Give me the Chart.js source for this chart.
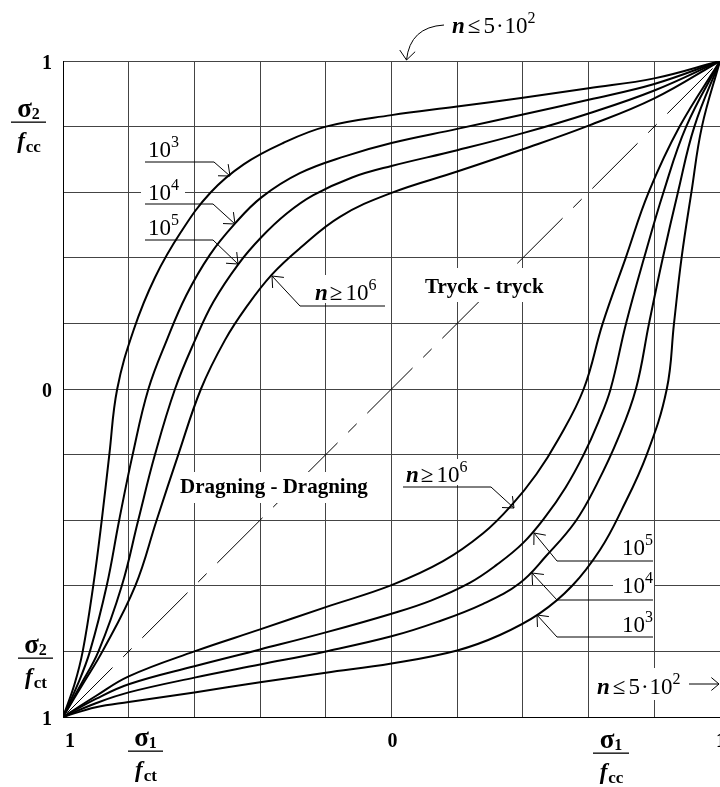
<!DOCTYPE html>
<html lang="sv">
<head>
<meta charset="utf-8">
<title>Utmattning - biaxiell</title>
<script src="https://cdn.jsdelivr.net/npm/chart.js@4.4.1/dist/chart.umd.min.js"></script>
<style>
    html, body { margin: 0; padding: 0; background: #ffffff; }
    #grafico { display: block; }
</style>
</head>
<body>
<canvas id="grafico" width="720" height="787"></canvas>
<script>
// Ejes: -1 = dragning (f_ct), 0, +1 = tryck (f_cc)
const marcasEje = [-1, 0, 1];
const etiquetasEje = ['1', '0', '1'];
const pasoGrilla = 0.2;

// Curvas superiores (n = 10^3 ... 10^6), pares [σ1/f, σ2/f]
const sup1e3 = [[-1,-1],[-0.965,-0.9],[-0.94,-0.8],[-0.908,-0.6],[-0.882,-0.4],[-0.859,-0.2],[-0.835,0],[-0.785,0.18],[-0.72,0.34],[-0.64,0.48],[-0.55,0.6],[-0.45,0.685],[-0.33,0.75],[-0.2,0.8],[0,0.835],[0.2,0.861],[0.4,0.888],[0.6,0.917],[0.8,0.947],[1,1]];
const sup1e4 = [[-1,-1],[-0.955,-0.9],[-0.918,-0.8],[-0.867,-0.6],[-0.829,-0.4],[-0.788,-0.2],[-0.74,0],[-0.684,0.149],[-0.625,0.285],[-0.553,0.409],[-0.476,0.505],[-0.395,0.585],[-0.279,0.658],[-0.14,0.71],[0,0.75],[0.2,0.793],[0.4,0.837],[0.6,0.882],[0.8,0.93],[1,1]];
const sup1e5 = [[-1,-1],[-0.945,-0.9],[-0.892,-0.8],[-0.821,-0.6],[-0.771,-0.4],[-0.72,-0.2],[-0.659,0],[-0.598,0.149],[-0.542,0.266],[-0.466,0.381],[-0.395,0.464],[-0.319,0.535],[-0.238,0.591],[-0.12,0.645],[0,0.68],[0.2,0.728],[0.4,0.78],[0.6,0.84],[0.8,0.91],[1,1]];
const sup1e6 = [[-1,-1],[-0.94,-0.9],[-0.88,-0.8],[-0.78,-0.6],[-0.715,-0.4],[-0.649,-0.2],[-0.58,0],[-0.507,0.149],[-0.441,0.251],[-0.365,0.348],[-0.279,0.429],[-0.157,0.525],[0,0.598],[0.2,0.663],[0.4,0.731],[0.6,0.803],[0.8,0.886],[1,1]];

// Curvas inferiores
const inf1e3 = [[-1,-1],[-0.9,-0.97],[-0.8,-0.954],[-0.6,-0.925],[-0.4,-0.894],[-0.2,-0.865],[0,-0.837],[0.2,-0.797],[0.33,-0.75],[0.45,-0.685],[0.55,-0.6],[0.635,-0.49],[0.7,-0.37],[0.777,-0.2],[0.838,0],[0.86,0.2],[0.883,0.4],[0.913,0.6],[0.945,0.8],[1,1]];
const inf1e4 = [[-1,-1],[-0.9,-0.958],[-0.8,-0.925],[-0.6,-0.88],[-0.4,-0.84],[-0.2,-0.8],[0,-0.754],[0.14,-0.71],[0.279,-0.655],[0.39,-0.592],[0.47,-0.51],[0.56,-0.404],[0.625,-0.29],[0.69,-0.15],[0.744,0],[0.784,0.2],[0.826,0.4],[0.872,0.6],[0.922,0.8],[1,1]];
const inf1e5 = [[-1,-1],[-0.9,-0.945],[-0.8,-0.9],[-0.6,-0.845],[-0.4,-0.794],[-0.2,-0.742],[0,-0.685],[0.12,-0.645],[0.238,-0.591],[0.319,-0.537],[0.4,-0.47],[0.468,-0.39],[0.53,-0.3],[0.585,-0.2],[0.63,-0.1],[0.667,0],[0.714,0.2],[0.769,0.4],[0.828,0.6],[0.897,0.8],[1,1]];
const inf1e6 = [[-1,-1],[-0.9,-0.936],[-0.8,-0.876],[-0.6,-0.8],[-0.4,-0.733],[-0.2,-0.665],[0,-0.598],[0.157,-0.525],[0.279,-0.44],[0.365,-0.355],[0.441,-0.26],[0.507,-0.155],[0.585,0],[0.643,0.2],[0.713,0.4],[0.783,0.6],[0.877,0.8],[1,1]];

const diagonal = [[-1,-1],[1,1]];

const aPuntos = arr => arr.map(p => ({ x: p[0], y: p[1] }));
const serif = '"Liberation Serif", "Times New Roman", serif';

function curva(datos) {
    return {
        data: aPuntos(datos),
        borderColor: '#000',
        borderWidth: 2,
        pointRadius: 0,
        tension: 0.4,
        fill: false
    };
}

// Texto compuesto (base, exponentes, símbolos)
function partesTexto(ctx, x, y, partes, medir) {
    let ancho = 0;
    for (const p of partes) {
        ctx.font = p.f;
        if (!medir) ctx.fillText(p.t, x + ancho, y + (p.dy || 0));
        ancho += ctx.measureText(p.t).width + (p.g || 0);
    }
    return ancho;
}

function flecha(ctx, x0, y0, x1, y1, largo = 12, abertura = 0.7) {
    const ang = Math.atan2(y1 - y0, x1 - x0);
    ctx.beginPath();
    ctx.moveTo(x1 - largo * Math.cos(ang - abertura), y1 - largo * Math.sin(ang - abertura));
    ctx.lineTo(x1, y1);
    ctx.lineTo(x1 - largo * Math.cos(ang + abertura), y1 - largo * Math.sin(ang + abertura));
    ctx.stroke();
}

function polilinea(ctx, pts) {
    ctx.beginPath();
    ctx.moveTo(pts[0][0], pts[0][1]);
    for (let i = 1; i < pts.length; i++) ctx.lineTo(pts[i][0], pts[i][1]);
    ctx.stroke();
}

function fraccion(ctx, cx, yBar, ancho, num, subNum, den, subDen) {
    ctx.textAlign = 'left';
    ctx.textBaseline = 'alphabetic';
    ctx.font = `bold 27px ${serif}`;
    const w1 = ctx.measureText(num).width;
    ctx.font = `bold 16px ${serif}`;
    const w2 = ctx.measureText(subNum).width;
    let x0 = cx - (w1 + w2) / 2;
    ctx.font = `bold 27px ${serif}`;
    ctx.fillText(num, x0, yBar - 5);
    ctx.font = `bold 16px ${serif}`;
    ctx.fillText(subNum, x0 + w1, yBar - 3);

    ctx.fillRect(cx - ancho / 2, yBar - 0.5, ancho, 1.3);

    ctx.font = `italic bold 23px ${serif}`;
    const w3 = ctx.measureText(den).width;
    ctx.font = `bold 17px ${serif}`;
    const w4 = ctx.measureText(subDen).width;
    x0 = cx - (w3 + w4) / 2;
    ctx.font = `italic bold 23px ${serif}`;
    ctx.fillText(den, x0, yBar + 26);
    ctx.font = `bold 17px ${serif}`;
    ctx.fillText(subDen, x0 + w3 + 1, yBar + 30);
}

const fNum = `23px ${serif}`;
const fExp = `16px ${serif}`;
const fN = `italic bold 23px ${serif}`;
const pot = (b, e) => [{ t: b, f: fNum }, { t: e, f: fExp, dy: -10 }];
const nMayor = e => [{ t: 'n', f: fN, g: 2 }, { t: '≥', f: fNum, g: 3 }, ...pot('10', e)];
const nMenor = [{ t: 'n', f: fN, g: 3 }, { t: '≤', f: fNum, g: 3 }, { t: '5', f: fNum, g: 1 }, { t: '·', f: fNum, g: 1 }, ...pot('10', '2')];

const anotaciones = {
    id: 'anotaciones',
    afterDatasetsDraw(chart) {
        const { ctx, chartArea, scales: { x, y } } = chart;
        ctx.save();
        ctx.fillStyle = '#000';
        ctx.strokeStyle = '#000';
        ctx.lineWidth = 1;

        // Cajas blancas que interrumpen la grilla
        ctx.fillStyle = '#fff';
        [[420, 268, 130, 34], [176, 472, 202, 31], [141, 178, 44, 23], [313, 275, 73, 28],
         [405, 459, 76, 26], [613, 572, 41, 24], [594, 668, 96, 32]].forEach(r => ctx.fillRect(r[0], r[1], r[2], r[3]));
        ctx.fillStyle = '#000';

        // Etiquetas de los ejes
        ctx.font = `bold 20px ${serif}`;
        ctx.textBaseline = 'middle';
        marcasEje.forEach((v, i) => {
            const px = x.getPixelForValue(v);
            ctx.textAlign = i === 0 ? 'left' : 'center';
            ctx.fillText(etiquetasEje[i], i === 0 ? px + 2 : px + 1, chartArea.bottom + 25);
            ctx.textAlign = 'right';
            ctx.fillText(etiquetasEje[i], chartArea.left - 11, y.getPixelForValue(v) + 3);
        });

        fraccion(ctx, 28.5, 122, 35, 'σ', '2', 'f', 'cc');
        fraccion(ctx, 35.5, 658, 35, 'σ', '2', 'f', 'ct');
        fraccion(ctx, 145.5, 751, 35, 'σ', '1', 'f', 'ct');
        fraccion(ctx, 611, 753, 36, 'σ', '1', 'f', 'cc');

        // Zonas
        ctx.textAlign = 'left';
        ctx.textBaseline = 'alphabetic';
        ctx.font = `bold 21px ${serif}`;
        ctx.fillText('Tryck - tryck', 425, 293);
        ctx.fillText('Dragning - Dragning', 180, 493);

        // Rótulos de n
        partesTexto(ctx, 148, 157, pot('10', '3'));
        partesTexto(ctx, 148, 200, pot('10', '4'));
        partesTexto(ctx, 148, 235, pot('10', '5'));
        partesTexto(ctx, 315, 300, nMayor('6'));
        partesTexto(ctx, 406, 482, nMayor('6'));
        [['5', 555], ['4', 593], ['3', 632]].forEach(([e, yb]) => {
            const w = partesTexto(ctx, 0, 0, pot('10', e), true);
            partesTexto(ctx, 653 - w, yb, pot('10', e));
        });
        partesTexto(ctx, 452, 33, nMenor);
        partesTexto(ctx, 597, 694, nMenor);

        // Líneas guía y flechas
        const guias = [
            [[145, 162], [214, 162], [230, 176]],
            [[145, 204], [213, 204], [235, 224]],
            [[145, 240], [213, 240], [238, 264]],
            [[385, 306], [300, 306], [272, 276]],
            [[403, 487], [491, 487], [514, 508]],
            [[653, 561], [557, 561], [534, 533]],
            [[653, 600], [557, 600], [532, 573]],
            [[653, 637], [557, 637], [537, 615]]
        ];
        guias.forEach(g => {
            polilinea(ctx, g);
            flecha(ctx, g[1][0], g[1][1], g[2][0], g[2][1]);
        });

        ctx.beginPath();
        ctx.moveTo(444, 25);
        ctx.quadraticCurveTo(410, 27, 406.5, 60);
        ctx.stroke();
        flecha(ctx, 410, 27, 406.5, 60);

        polilinea(ctx, [[689, 684], [719, 684]]);
        flecha(ctx, 689, 684, 719, 684, 10);

        ctx.restore();
    }
};

new Chart(document.getElementById('grafico'), {
    type: 'line',
    data: {
        datasets: [
            curva(sup1e3), curva(sup1e4), curva(sup1e5), curva(sup1e6),
            curva(inf1e3), curva(inf1e4), curva(inf1e5), curva(inf1e6),
            {
                data: aPuntos(diagonal),
                borderColor: '#000',
                borderWidth: 1,
                borderDash: [64, 15, 12, 15],
                borderDashOffset: 100,
                pointRadius: 0,
                tension: 0
            }
        ]
    },
    options: {
        responsive: false,
        animation: false,
        devicePixelRatio: 1,
        layout: { padding: { left: 63, top: 61, right: 0, bottom: 70 } },
        plugins: {
            legend: { display: false },
            tooltip: { enabled: false }
        },
        scales: {
            x: {
                type: 'linear',
                min: -1,
                max: 1,
                ticks: { display: false, stepSize: pasoGrilla },
                grid: { color: '#444', lineWidth: 1, drawTicks: false },
                border: { display: true, color: '#000', width: 1 }
            },
            y: {
                type: 'linear',
                min: -1,
                max: 1,
                ticks: { display: false, stepSize: pasoGrilla },
                grid: { color: '#444', lineWidth: 1, drawTicks: false },
                border: { display: true, color: '#000', width: 1 }
            }
        }
    },
    plugins: [anotaciones]
});
</script>
</body>
</html>
